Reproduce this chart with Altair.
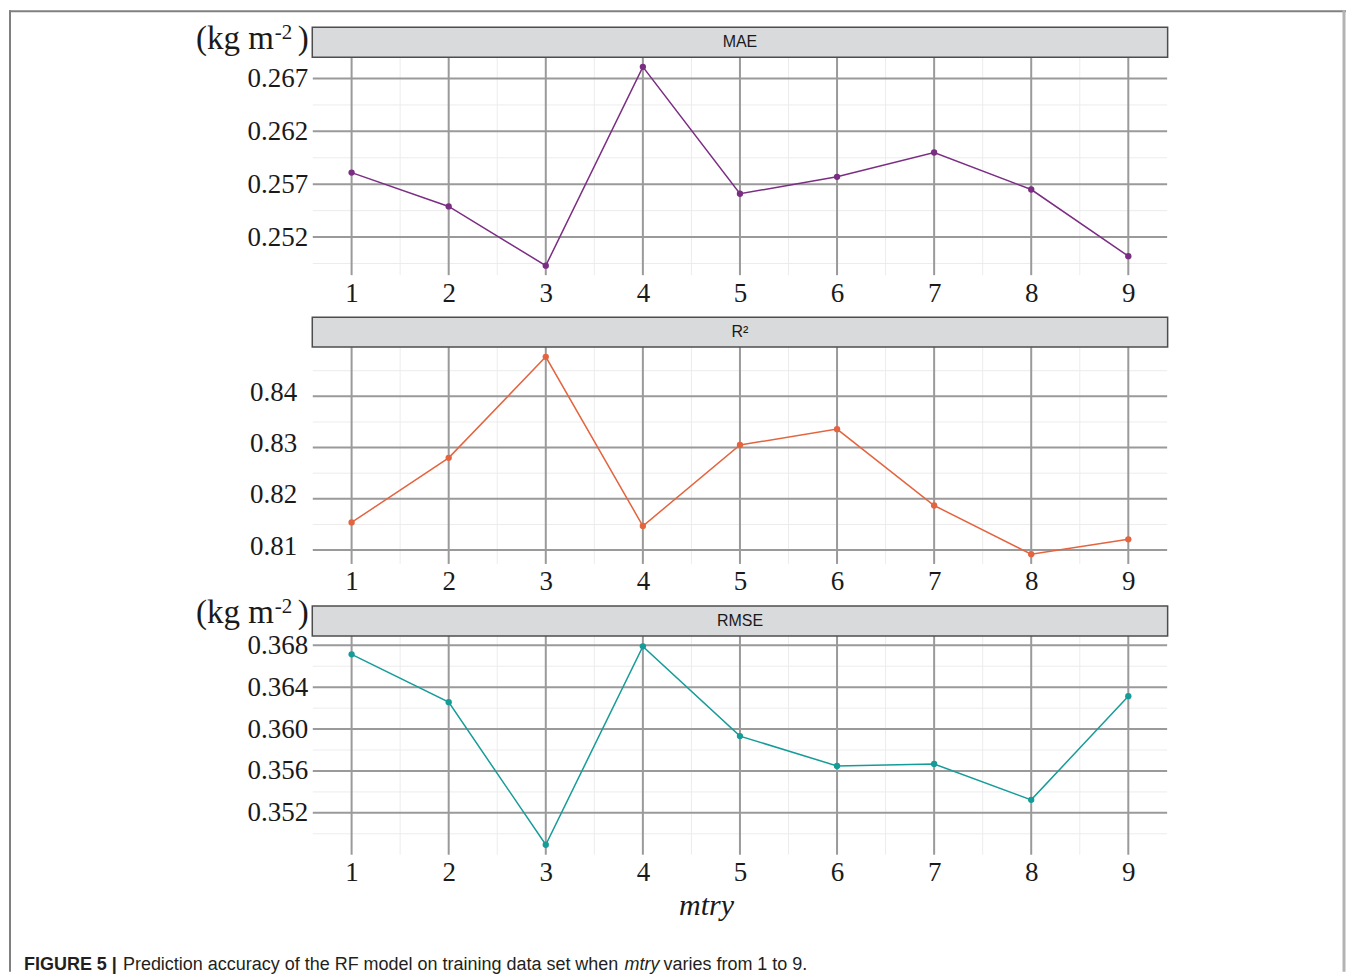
import altair as alt
import pandas as pd

# ---------------- data ----------------
mtry = [1, 2, 3, 4, 5, 6, 7, 8, 9]
mae = [0.2581, 0.2549, 0.2493, 0.2681, 0.2561, 0.2577, 0.2600, 0.2565, 0.2502]
r2 = [0.8154, 0.8280, 0.8477, 0.8147, 0.8305, 0.8336, 0.8187, 0.8092, 0.8121]
rmse = [0.36714, 0.36257, 0.34895, 0.36790, 0.35933, 0.35648, 0.35667, 0.35324, 0.36314]

mae_ticks = [0.252, 0.257, 0.262, 0.267]
r2_ticks = [0.81, 0.82, 0.83, 0.84]
rmse_ticks = [0.352, 0.356, 0.360, 0.364, 0.368]

mae_minor = [0.2495, 0.2545, 0.2595, 0.2645]
r2_minor = [0.815, 0.825, 0.835, 0.845]
rmse_minor = [0.350, 0.354, 0.358, 0.362, 0.366]
x_minor = [1.5, 2.5, 3.5, 4.5, 5.5, 6.5, 7.5, 8.5]

mae_domain = [0.2484, 0.2690]
r2_domain = [0.8073, 0.8496]
rmse_domain = [0.3480, 0.3689]
x_domain = [0.6, 9.4]

panel_labels = ["MAE", "R²", "RMSE"]
colors = ["#7B2D83", "#E4643F", "#169C98"]
units_text = ["(kg m", "-2", ")"]
axis_title = "mtry"
caption_bold = "FIGURE 5 |"
caption_a = "Prediction accuracy of the RF model on training data set when"
caption_it = "mtry"
caption_b = "varies from 1 to 9."

W = 855
SERIF = "Liberation Serif"
SANS = "Liberation Sans"
MAJOR = "#9a9a9a"
MINOR = "#ececec"
TXT = "#1a1a1a"


def one(df_col, val):
    return pd.DataFrame({df_col: [val]})


def panel(values, color, label, ticks, minor, domain, fmt, height,
          units_y=None, ypad=5, yoff=0):
    df = pd.DataFrame({"mtry": mtry, "value": values})
    xscale = alt.Scale(domain=x_domain, nice=False, zero=False)
    yscale = alt.Scale(domain=domain, nice=False, zero=False)
    xaxis = alt.Axis(
        values=mtry, format="d", title=None, grid=False, domain=False,
        ticks=False, labelFont=SERIF, labelFontSize=27,
        labelPadding=5, labelColor=TXT, labelFlush=False,
    )
    yaxis = alt.Axis(
        values=ticks, format=fmt, title=None, grid=False, domain=False,
        ticks=False, labelFont=SERIF, labelFontSize=27,
        labelPadding=ypad, labelOffset=yoff, labelColor=TXT, labelFlush=False,
    )

    base = alt.Chart(df).encode(
        x=alt.X("mtry:Q", scale=xscale, axis=xaxis),
        y=alt.Y("value:Q", scale=yscale, axis=yaxis),
    )
    minor_h = alt.Chart(pd.DataFrame({"value": minor})).mark_rule(
        color=MINOR, strokeWidth=1
    ).encode(y=alt.Y("value:Q", scale=yscale, axis=yaxis))
    minor_v = alt.Chart(pd.DataFrame({"mtry": x_minor})).mark_rule(
        color=MINOR, strokeWidth=1
    ).encode(x=alt.X("mtry:Q", scale=xscale, axis=xaxis))
    major_h = alt.Chart(pd.DataFrame({"value": ticks})).mark_rule(
        color=MAJOR, strokeWidth=2
    ).encode(y=alt.Y("value:Q", scale=yscale, axis=yaxis))
    major_v = alt.Chart(pd.DataFrame({"mtry": mtry})).mark_rule(
        color=MAJOR, strokeWidth=2
    ).encode(x=alt.X("mtry:Q", scale=xscale, axis=xaxis))

    line = base.mark_line(color=color, strokeWidth=1.5)
    pts = base.mark_circle(color=color, size=40, opacity=1)

    sdf = pd.DataFrame({"label": [label]})
    strip = alt.Chart(sdf).mark_rect(
        fill="#d9dadc", stroke="#4d4d4d", strokeWidth=1.5
    ).encode(x=alt.value(-0.5), x2=alt.value(W + 0.5), y=alt.value(-30), y2=alt.value(0))
    strip_txt = alt.Chart(sdf).mark_text(
        font=SANS, fontSize=16, color=TXT, baseline="middle", align="center"
    ).encode(x=alt.value(W / 2), y=alt.value(-15), text="label:N")

    layers = [minor_h, minor_v, major_h, major_v, line, pts, strip, strip_txt]

    if units_y is not None:
        u1 = alt.Chart(one("t", units_text[0])).mark_text(
            font=SERIF, fontSize=33, color=TXT, align="right", baseline="alphabetic"
        ).encode(x=alt.value(-39), y=alt.value(units_y), text="t:N")
        u2 = alt.Chart(one("t", units_text[1])).mark_text(
            font=SERIF, fontSize=21, color=TXT, align="left", baseline="alphabetic"
        ).encode(x=alt.value(-38), y=alt.value(units_y - 10), text="t:N")
        u3 = alt.Chart(one("t", units_text[2])).mark_text(
            font=SERIF, fontSize=33, color=TXT, align="left", baseline="alphabetic"
        ).encode(x=alt.value(-15), y=alt.value(units_y), text="t:N")
        layers += [u1, u2, u3]

    return alt.layer(*layers).properties(width=W, height=height)


p1 = panel(mae, colors[0], panel_labels[0], mae_ticks, mae_minor, mae_domain, ".3f", 218, units_y=-8)
p2 = panel(r2, colors[1], panel_labels[1], r2_ticks, r2_minor, r2_domain, ".2f", 217, ypad=16, yoff=-4)
p3 = panel(rmse, colors[2], panel_labels[2], rmse_ticks, rmse_minor, rmse_domain, ".3f", 219, units_y=-13)

# figure frame (top, left, right) drawn relative to panel 1
frame_df = pd.DataFrame({"k": [0]})
frame_top = alt.Chart(frame_df).mark_rule(color="#808080", strokeWidth=2).encode(
    x=alt.value(-304), x2=alt.value(1034), y=alt.value(-46))
frame_left = alt.Chart(frame_df).mark_rule(color="#808080", strokeWidth=2).encode(
    x=alt.value(-303), y=alt.value(-47), y2=alt.value(915))
frame_right = alt.Chart(frame_df).mark_rule(color="#b3b3b3", strokeWidth=3).encode(
    x=alt.value(1032), y=alt.value(-47), y2=alt.value(915))
p1 = alt.layer(p1, frame_top, frame_left, frame_right)

# x-axis title and caption relative to panel 3
t_title = alt.Chart(one("t", axis_title)).mark_text(
    font=SERIF, fontSize=30, fontStyle="italic", color=TXT, baseline="middle", align="center"
).encode(x=alt.value(394), y=alt.value(270), text="t:N")
c1 = alt.Chart(one("t", caption_bold)).mark_text(
    font=SANS, fontSize=18, fontWeight="bold", color="#231f20", baseline="middle", align="left"
).encode(x=alt.value(-289), y=alt.value(329), text="t:N")
c2 = alt.Chart(one("t", caption_a)).mark_text(
    font=SANS, fontSize=18, color="#231f20", baseline="middle", align="left"
).encode(x=alt.value(-190), y=alt.value(329), text="t:N")
c3 = alt.Chart(one("t", caption_it)).mark_text(
    font=SANS, fontSize=18, fontStyle="italic", color="#231f20", baseline="middle", align="left"
).encode(x=alt.value(312), y=alt.value(329), text="t:N")
c4 = alt.Chart(one("t", caption_b)).mark_text(
    font=SANS, fontSize=18, color="#231f20", baseline="middle", align="left"
).encode(x=alt.value(351), y=alt.value(329), text="t:N")
p3 = alt.layer(p3, t_title, c1, c2, c3, c4)

chart = alt.vconcat(p1, p2, p3, spacing=72, bounds="flush").properties(
    padding=0
).configure_view(stroke=None)

chart.save("out.html", embed_options={"renderer": "svg", "actions": False})
